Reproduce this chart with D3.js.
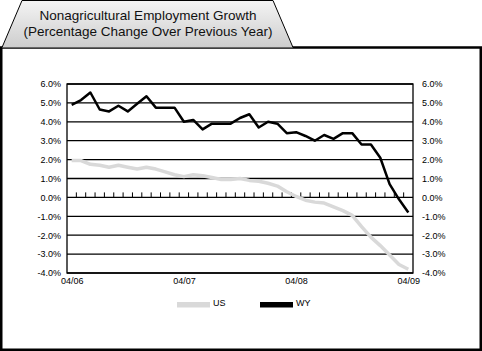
<!DOCTYPE html>
<html>
<head>
<meta charset="utf-8">
<script src="https://cdn.jsdelivr.net/npm/d3@7"></script>
<style>
  body { margin: 0; background: #fff; }
  text { font-family: "Liberation Sans", Arial, sans-serif; }
</style>
</head>
<body>
<script>
// months, April 2006 to April 2009
var months = ["04/06","05/06","06/06","07/06","08/06","09/06","10/06","11/06","12/06",
  "01/07","02/07","03/07","04/07","05/07","06/07","07/07","08/07","09/07","10/07","11/07","12/07",
  "01/08","02/08","03/08","04/08","05/08","06/08","07/08","08/08","09/08","10/08","11/08","12/08",
  "01/09","02/09","03/09","04/09"];

var us = [1.95, 1.95, 1.75, 1.7, 1.6, 1.7, 1.6, 1.5, 1.6, 1.5, 1.35, 1.2,
  1.1, 1.2, 1.15, 1.05, 0.95, 0.95, 1.0, 0.9, 0.85, 0.75, 0.6, 0.3,
  0.05, -0.15, -0.25, -0.3, -0.5, -0.7, -0.95, -1.55, -2.1, -2.55, -3.05, -3.55, -3.8];

var wy = [4.9, 5.15, 5.55, 4.65, 4.55, 4.85, 4.55, 4.95, 5.35, 4.75, 4.75, 4.75,
  4.0, 4.1, 3.6, 3.9, 3.9, 3.9, 4.2, 4.4, 3.7, 4.0, 3.9, 3.4,
  3.45, 3.25, 3.0, 3.3, 3.1, 3.4, 3.4, 2.8, 2.8, 2.1, 0.7, -0.1, -0.8];

var yTicks = [-4, -3, -2, -1, 0, 1, 2, 3, 4, 5, 6];
var xLabels = ["04/06", "04/07", "04/08", "04/09"];

var titleLines = ["Nonagricultural Employment Growth", "(Percentage Change Over Previous Year)"];

var W = 482, H = 351;
var plot = {left: 67, right: 413, top: 84, bottom: 273};

var svg = d3.select("body").append("svg")
  .attr("width", W)
  .attr("height", H);

// gradient for the title tab
var grad = svg.append("defs").append("linearGradient")
  .attr("id", "tabfill")
  .attr("x1", 0).attr("y1", 0).attr("x2", 0).attr("y2", 1);
grad.append("stop").attr("offset", "0%").attr("stop-color", "#f4f4f4");
grad.append("stop").attr("offset", "100%").attr("stop-color", "#cdcdcd");

// outer frame
svg.append("rect")
  .attr("x", 1.25).attr("y", 47.5)
  .attr("width", W - 2.5).attr("height", H - 48.75)
  .attr("fill", "none")
  .attr("stroke", "#000")
  .attr("stroke-width", 2.5);

// title tab
svg.append("path")
  .attr("d", "M2,47.5 L22,0.5 L273,0.5 L293,47.5")
  .attr("fill", "url(#tabfill)")
  .attr("stroke", "#000")
  .attr("stroke-width", 1);

svg.selectAll("text.title")
  .data(titleLines)
  .enter()
  .append("text")
  .attr("class", "title")
  .attr("x", 148)
  .attr("y", function(d, i) { return 20 + i * 16; })
  .attr("text-anchor", "middle")
  .attr("font-size", "13.5px")
  .attr("fill", "#111")
  .text(function(d) { return d; });

// scales
var x = d3.scalePoint()
  .domain(months)
  .range([plot.left, plot.right])
  .padding(0.5);

var y = d3.scaleLinear()
  .domain([-4, 6])
  .range([plot.bottom, plot.top]);

var g = svg.append("g");

// horizontal gridlines
g.selectAll("line.grid")
  .data(yTicks)
  .enter()
  .append("line")
  .attr("class", "grid")
  .attr("x1", plot.left).attr("x2", plot.right)
  .attr("y1", function(d) { return y(d); })
  .attr("y2", function(d) { return y(d); })
  .attr("stroke", "#000")
  .attr("stroke-width", 1.3);

// plot border
g.append("rect")
  .attr("x", plot.left).attr("y", plot.top)
  .attr("width", plot.right - plot.left)
  .attr("height", plot.bottom - plot.top)
  .attr("fill", "none")
  .attr("stroke", "#000")
  .attr("stroke-width", 1.3);

// small month ticks on the zero line
var step = x.step();
g.selectAll("line.mtick")
  .data(months.slice(1))
  .enter()
  .append("line")
  .attr("class", "mtick")
  .attr("x1", function(d) { return x(d) - step / 2; })
  .attr("x2", function(d) { return x(d) - step / 2; })
  .attr("y1", y(0) - 5)
  .attr("y2", y(0))
  .attr("stroke", "#000")
  .attr("stroke-width", 1);

// axes
var fmt = function(d) { return d.toFixed(1) + "%"; };

var yl = g.append("g")
  .attr("transform", "translate(" + plot.left + ",0)")
  .call(d3.axisLeft(y).tickValues(yTicks).tickSize(0).tickPadding(6).tickFormat(fmt));

var yr = g.append("g")
  .attr("transform", "translate(" + plot.right + ",0)")
  .call(d3.axisRight(y).tickValues(yTicks).tickSize(0).tickPadding(9).tickFormat(fmt));

var xa = g.append("g")
  .attr("transform", "translate(0," + plot.bottom + ")")
  .call(d3.axisBottom(x).tickValues(xLabels).tickSize(0).tickPadding(5));

[yl, yr, xa].forEach(function(a) {
  a.select(".domain").remove();
  a.selectAll("text")
    .attr("font-family", "'Liberation Sans', Arial, sans-serif")
    .attr("font-size", "9px")
    .attr("fill", "#000");
});

// lines
var line = function(vals) {
  return d3.line()
    .x(function(d, i) { return x(months[i]); })
    .y(function(d) { return y(d); })(vals);
};

g.append("path")
  .attr("d", line(us))
  .attr("fill", "none")
  .attr("stroke", "#d9d9d9")
  .attr("stroke-width", 3.5)
  .attr("stroke-linejoin", "round");

g.append("path")
  .attr("d", line(wy))
  .attr("fill", "none")
  .attr("stroke", "#000")
  .attr("stroke-width", 2.5)
  .attr("stroke-linejoin", "round");

// legend
var legend = [{name: "US", color: "#d9d9d9", x: 177}, {name: "WY", color: "#000", x: 260}];

var lg = svg.selectAll("g.legend")
  .data(legend)
  .enter()
  .append("g")
  .attr("class", "legend")
  .attr("transform", function(d) { return "translate(" + d.x + ",302)"; });

lg.append("rect")
  .attr("width", 33).attr("height", 5.5)
  .attr("fill", function(d) { return d.color; });

lg.append("text")
  .attr("x", 36).attr("y", 4)
  .attr("font-size", "9px")
  .attr("fill", "#000")
  .text(function(d) { return d.name; });
</script>
</body>
</html>
